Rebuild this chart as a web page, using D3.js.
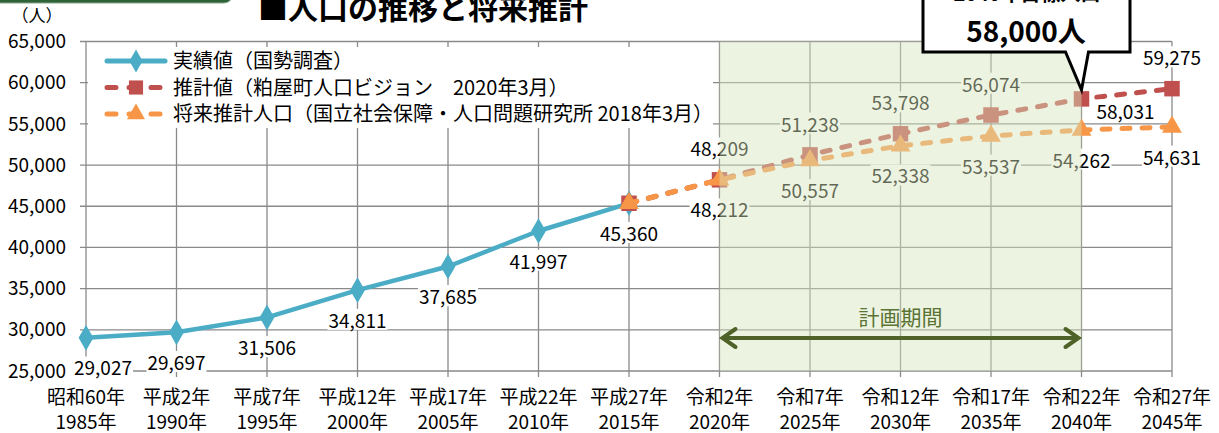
<!DOCTYPE html>
<html><head><meta charset="utf-8">
<script src="https://cdn.jsdelivr.net/npm/d3@7/dist/d3.min.js"></script>
<style>
html,body{margin:0;padding:0;background:#fff;}
svg{display:block;font-family:"Noto Sans CJK JP","Noto Sans",sans-serif;}
</style></head>
<body>
<svg id="chart" width="1219" height="433"></svg>
<script>
const years = [1985,1990,1995,2000,2005,2010,2015,2020,2025,2030,2035,2040,2045];
const eraLabels = ["昭和60年","平成2年","平成7年","平成12年","平成17年","平成22年","平成27年","令和2年","令和7年","令和12年","令和17年","令和22年","令和27年"];
const yearLabels = ["1985年","1990年","1995年","2000年","2005年","2010年","2015年","2020年","2025年","2030年","2035年","2040年","2045年"];
const actual = [29027,29697,31506,34811,37685,41997,45360,null,null,null,null,null,null];
const visionEst = [null,null,null,null,null,null,45360,48209,51238,53798,56074,58031,59275];
const ipssEst = [null,null,null,null,null,null,45360,48212,50557,52338,53537,54262,54631];
const yTicks = [25000,30000,35000,40000,45000,50000,55000,60000,65000];
const seriesNames = ["実績値（国勢調査）","推計値（粕屋町人口ビジョン　2020年3月）","将来推計人口（国立社会保障・人口問題研究所 2018年3月）"];
const titleText = "■人口の推移と将来推計";
const unitText = "（人）";
const periodText = "計画期間";
const periodStart = 2020, periodEnd = 2040;
const calloutLine1 = "2040年目標人口";
const calloutLine2 = "58,000人";

const svg = d3.select("#chart");
const L = 86, R = 1172, T = 41.5, B = 371;
const x = d3.scalePoint().domain(years).range([L, R]);
const y = d3.scaleLinear().domain([25000, 65000]).range([B, T]);
const fmt = d3.format(",");

const BLUE = "#4BACC6", RED = "#C0504D", ORANGE = "#F79646", GRID = "#8a8a8a";

// top-left banner
svg.append("rect").attr("x", -12).attr("y", -30).attr("width", 245).attr("height", 33).attr("rx", 9)
  .attr("fill", "#2E6338").attr("stroke", "#86a58a").attr("stroke-width", 1);

// title
svg.append("text").attr("x", 258).attr("y", 19).attr("font-size", 30).attr("font-weight", "bold")
  .attr("fill", "#000").text(titleText);

// unit
svg.append("text").attr("x", 37).attr("y", 22).attr("text-anchor", "middle").attr("font-size", 17).text(unitText);

// gridlines
const g = svg.append("g");
g.selectAll(".hg").data(yTicks).join("line")
  .attr("x1", L - 6).attr("x2", R).attr("y1", d => y(d)).attr("y2", d => y(d))
  .attr("stroke", GRID).attr("stroke-width", 1.3);
g.selectAll(".vg").data(years).join("line")
  .attr("x1", d => x(d)).attr("x2", d => x(d)).attr("y1", T).attr("y2", B + 6)
  .attr("stroke", GRID).attr("stroke-width", 1.3);

// y labels
svg.selectAll(".yl").data(yTicks).join("text")
  .attr("x", 66).attr("y", d => y(d)).attr("dy", "0.35em").attr("text-anchor", "end")
  .attr("font-size", 19).attr("fill", "#000").text(d => fmt(d));

// x labels
const xl = svg.append("g");
xl.selectAll(".x1").data(years).join("text")
  .attr("x", d => x(d)).attr("y", 397).attr("dy", "0.35em").attr("text-anchor", "middle")
  .attr("font-size", 19).text((d, i) => eraLabels[i]);
xl.selectAll(".x2").data(years).join("text")
  .attr("x", d => x(d)).attr("y", 422).attr("dy", "0.35em").attr("text-anchor", "middle")
  .attr("font-size", 19).text((d, i) => yearLabels[i]);

// lines
function pts(arr) { return years.map((yr, i) => ({yr, v: arr[i], i})).filter(d => d.v != null); }
const line = d3.line().x(d => x(d.yr)).y(d => y(d.v));

function drawSeries(arr, color, dashed, sym) {
  const p = pts(arr);
  svg.append("path").datum(p).attr("d", line).attr("fill", "none")
    .attr("stroke", color).attr("stroke-width", dashed ? 5 : 4.5)
    .attr("stroke-linecap", dashed ? "round" : "butt")
    .attr("stroke-linejoin", "round")
    .attr("stroke-dasharray", dashed ? "8,12" : null);
  svg.selectAll(null).data(p).join("path")
    .attr("transform", d => `translate(${x(d.yr)},${y(d.v)})`)
    .attr("d", sym).attr("fill", color);
}
drawSeries(actual, BLUE, false, d3.symbol().type(d3.symbolDiamond).size(190));
drawSeries(visionEst, RED, true, d3.symbol().type(d3.symbolSquare).size(240));
drawSeries(ipssEst, ORANGE, true, d3.symbol().type(d3.symbolTriangle).size(170));

// data labels with white backgrounds
function label(xp, yp, txt) {
  const gg = svg.append("g");
  const t = gg.append("text").attr("x", xp).attr("y", yp).attr("dy", "0.35em")
    .attr("text-anchor", "middle").attr("font-size", 19).attr("fill", "#000").text(txt);
  const bb = t.node().getBBox();
  gg.insert("rect", "text").attr("x", bb.x - 1).attr("y", bb.y + 3).attr("width", bb.width + 2)
    .attr("height", bb.height - 6).attr("fill", "#fff");
}
pts(actual).forEach(d => {
  const dx = d.i === 0 ? 17 : 0;
  label(x(d.yr) + dx, y(d.v) + 31, fmt(d.v));
});
pts(visionEst).filter(d => d.i > 6).forEach(d => {
  if (d.yr === 2040) label(x(d.yr) + 44, y(d.v) + 13, fmt(d.v));
  else label(x(d.yr), y(d.v) - 30, fmt(d.v));
});
pts(ipssEst).filter(d => d.i > 6).forEach(d => {
  label(x(d.yr), y(d.v) + 31, fmt(d.v));
});

// planning period overlay
svg.append("rect").attr("x", x(periodStart)).attr("y", T).attr("width", x(periodEnd) - x(periodStart))
  .attr("height", B - T).attr("fill", "#D8E4BC").attr("opacity", 0.45);

// legend
const lg = svg.append("g");
lg.append("rect").attr("x", 88).attr("y", 47).attr("width", 625).attr("height", 81).attr("fill", "#fff");
const legendRows = [
  {c: BLUE, dashed: false, sym: d3.symbol().type(d3.symbolDiamond).size(150)},
  {c: RED, dashed: true, sym: d3.symbol().type(d3.symbolSquare).size(200)},
  {c: ORANGE, dashed: true, sym: d3.symbol().type(d3.symbolTriangle).size(140)}
];
legendRows.forEach((r, i) => {
  const yy = 61 + i * 26.5;
  lg.append("line").attr("x1", 107).attr("x2", 165).attr("y1", yy).attr("y2", yy)
    .attr("stroke", r.c).attr("stroke-width", 5).attr("stroke-linecap", "round")
    .attr("stroke-dasharray", r.dashed ? "9,13" : null);
  lg.append("path").attr("transform", `translate(136,${yy})`).attr("d", r.sym).attr("fill", r.c);
  lg.append("text").attr("x", 173).attr("y", yy).attr("dy", "0.35em").attr("font-size", 20)
    .attr("fill", "#000").text(seriesNames[i]);
});

// planning period arrow + label
const AC = "#4F6228";
const ax1 = x(periodStart) + 3, ax2 = x(periodEnd) - 3, ay = 338;
svg.append("line").attr("x1", ax1 + 2).attr("x2", ax2 - 2).attr("y1", ay).attr("y2", ay)
  .attr("stroke", AC).attr("stroke-width", 4);
svg.append("path").attr("d", `M${ax1 + 13},${ay - 9} L${ax1},${ay} L${ax1 + 13},${ay + 9}`)
  .attr("fill", "none").attr("stroke", AC).attr("stroke-width", 4).attr("stroke-linecap", "round");
svg.append("path").attr("d", `M${ax2 - 13},${ay - 9} L${ax2},${ay} L${ax2 - 13},${ay + 9}`)
  .attr("fill", "none").attr("stroke", AC).attr("stroke-width", 4).attr("stroke-linecap", "round");
svg.append("text").attr("x", (x(2025) + x(2035)) / 2).attr("y", 318).attr("dy", "0.35em")
  .attr("text-anchor", "middle").attr("font-size", 21).attr("fill", "#5a7434").text(periodText);

// callout
const tipX = x(2040), tipY = y(58031) - 9;
svg.append("path")
  .attr("d", `M923,-20 L1130,-20 L1130,52 L${tipX + 7},52 L${tipX},${tipY} L${tipX - 16},52 L923,52 Z`)
  .attr("fill", "#fff").attr("stroke", "#000").attr("stroke-width", 3).attr("stroke-linejoin", "miter");
svg.append("text").attr("x", 1027).attr("y", 1).attr("text-anchor", "middle").attr("font-size", 20)
  .attr("font-weight", "bold").text(calloutLine1);
svg.append("text").attr("x", 1026).attr("y", 42).attr("text-anchor", "middle").attr("font-size", 28)
  .attr("font-weight", "bold").text(calloutLine2);
</script>
</body></html>
